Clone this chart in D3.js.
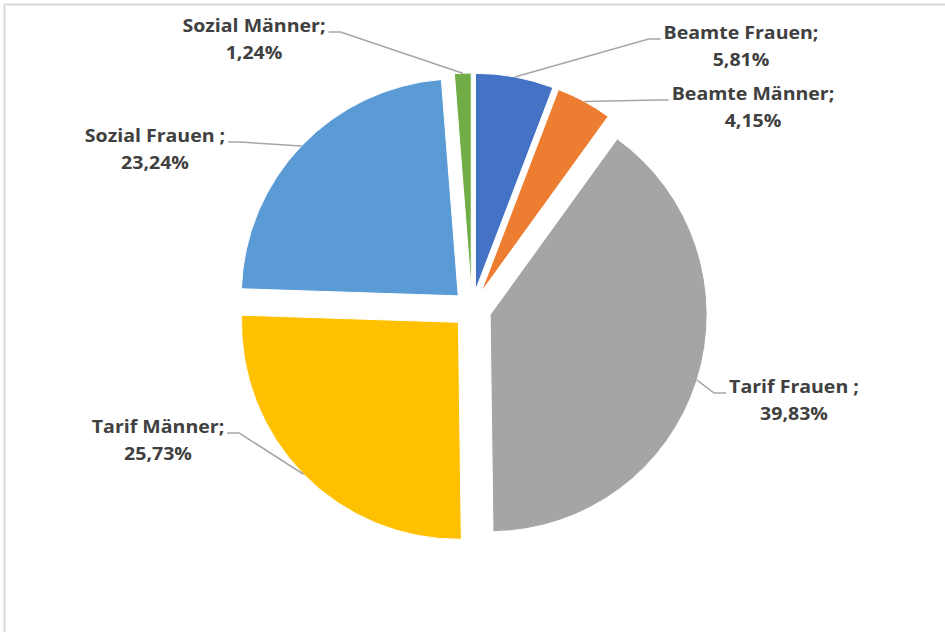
<!DOCTYPE html>
<html>
<head>
    <meta charset="utf-8">
    <title>Beschäftigte nach Gruppe</title>
    <script src="https://cdn.jsdelivr.net/npm/d3@7/dist/d3.min.js" type="text/javascript"></script>
    <style type="text/css">
        body { margin: 0; background: #fff; }
        svg text { font-family: "Open Sans", "Noto Sans", sans-serif; font-weight: 700; fill: #404040; }
    </style>
</head>
<body>
<div id="chart"></div>
<script type="text/javascript">
    // data (percent)
    var categories = ["Beamte Frauen", "Beamte Männer", "Tarif Frauen", "Tarif Männer", "Sozial Frauen", "Sozial Männer"];
    var values = [5.81, 4.15, 39.83, 25.73, 23.24, 1.24];
    var labelNames = ["Beamte Frauen;", "Beamte Männer;", "Tarif Frauen ;", "Tarif Männer;", "Sozial Frauen ;", "Sozial Männer;"];
    var colors = ["#4472C4", "#ED7D31", "#A5A5A5", "#FFC000", "#5B9BD5", "#70AD47"];

    // label layout: centre x, first baseline y, which side the leader attaches
    var labelPos = [
        {x: 741, y: 39, side: "left"},
        {x: 753, y: 100, side: "left"},
        {x: 794, y: 393, side: "left"},
        {x: 158, y: 433, side: "right"},
        {x: 155, y: 142, side: "right"},
        {x: 254, y: 32, side: "right"}
    ];

    var width = 945, height = 632;
    var cx = 472, cy = 309;
    var radius = 217;
    var explode = 19; //all slices pulled out the same
    var textScale = 1.15; //the original text is wide
    var lineGap = 27;

    var svg = d3.select('#chart')
        .append('svg')
        .attr('width', width)
        .attr('height', height);

    // frame (only top and left edges are visible)
    svg.append('rect')
        .attr('x', 4.5).attr('y', 4.5)
        .attr('width', 1200).attr('height', 1200)
        .attr('fill', 'none')
        .attr('stroke', '#d9d9d9')
        .attr('stroke-width', 2);

    var data = categories.map(function(c, i) {
        return {name: c, value: values[i], label: labelNames[i], color: colors[i], pos: labelPos[i]};
    });

    var pie = d3.pie().sort(null).value(function(d) { return d.value; });
    var arcs = pie(data);
    var arc = d3.arc().innerRadius(0).outerRadius(radius);

    var mid = function(d) { return (d.startAngle + d.endAngle) / 2; };
    var dir = function(d) { var a = mid(d); return [Math.sin(a), -Math.cos(a)]; };

    var g = svg.append('g').attr('transform', 'translate(' + cx + ',' + cy + ')');

    g.selectAll('path.slice')
        .data(arcs)
        .enter().append('path')
        .attr('class', 'slice')
        .attr('d', arc)
        .attr('fill', function(d) { return d.data.color; })
        .attr('stroke', '#fff')
        .attr('stroke-width', 1)
        .attr('transform', function(d) {
            var v = dir(d);
            return 'translate(' + (v[0] * explode) + ',' + (v[1] * explode) + ')';
        });

    // labels
    var labels = svg.selectAll('g.label')
        .data(arcs)
        .enter().append('g')
        .attr('class', 'label')
        .attr('transform', function(d) {
            return 'translate(' + d.data.pos.x + ',' + d.data.pos.y + ') scale(' + textScale + ',1)';
        });

    var txt = labels.append('text')
        .attr('text-anchor', 'middle')
        .style('font-size', '17px');
    txt.append('tspan')
        .attr('class', 'l1')
        .attr('x', 0).attr('y', 0)
        .text(function(d) { return d.data.label; });
    txt.append('tspan')
        .attr('x', 0).attr('y', lineGap)
        .text(function(d) { return d3.format('.2f')(d.data.value).replace('.', ',') + '%'; });

    // leader lines: slice edge at mid angle -> elbow -> text edge
    var leader = d3.line();
    labels.each(function(d) {
        var w = d3.select(this).select('tspan.l1').node().getComputedTextLength() * textScale;
        var p = d.data.pos;
        var v = dir(d);
        var sx = cx + v[0] * (radius + explode);
        var sy = cy + v[1] * (radius + explode);
        var ex, elx;
        if (p.side === 'left') {
            ex = p.x - w / 2 - 3;
            elx = ex - 12;
        } else {
            ex = p.x + w / 2 + 3;
            elx = ex + 12;
        }
        var pts = [[ex, p.y], [elx, p.y], [sx, sy]];
        svg.insert('path', 'g.label')
            .attr('d', leader(pts))
            .attr('fill', 'none')
            .attr('stroke', '#a6a6a6')
            .attr('stroke-width', 1.5);
    });
</script>
</body>
</html>
